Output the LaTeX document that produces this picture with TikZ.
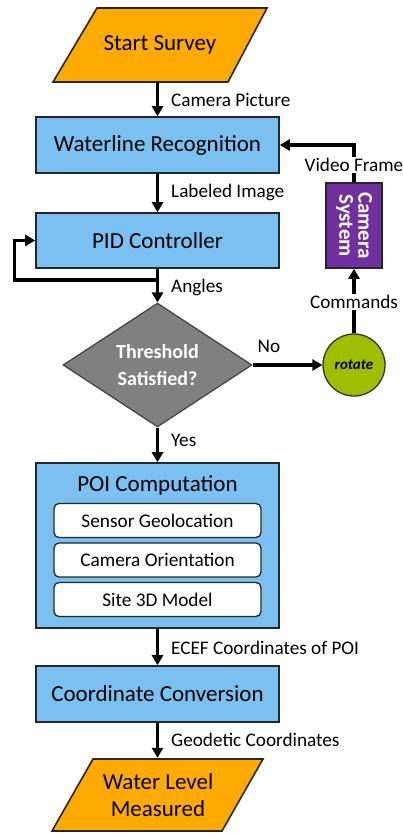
\documentclass[tikz,border=0pt]{standalone}
\usepackage{fontspec}
\setmainfont{Carlito}
\usetikzlibrary{arrows.meta,shapes.geometric}
\definecolor{orng}{RGB}{255,170,0}
\definecolor{bluebox}{RGB}{122,192,240}
\definecolor{purp}{RGB}{112,48,160}
\definecolor{limegr}{RGB}{160,190,0}
\definecolor{gry}{RGB}{128,128,128}
\begin{document}
\begin{tikzpicture}[x=1pt,y=-1pt,
  box/.style={draw=black!85, line width=1.6pt, fill=bluebox, minimum width=243pt, minimum height=56pt, inner sep=0pt, font=\fontsize{23}{26}\selectfont},
  subbox/.style={draw=black!85, line width=1.3pt, fill=white, rounded corners=5pt, minimum width=207pt, minimum height=34pt, inner sep=0pt, font=\fontsize{19.3}{22}\selectfont},
  para/.style={draw=black!85, line width=1.6pt, fill=orng},
  arr/.style={line width=3.2pt, line join=miter, -{Triangle[width=11pt,length=10pt]}},
  lbl/.style={anchor=west, inner sep=0pt, font=\fontsize{19.2}{22}\selectfont},
  wlbl/.style={fill=white, inner sep=1pt, font=\fontsize{19.2}{22}\selectfont},
  ptext/.style={inner sep=0pt, minimum height=74pt, align=center, font=\fontsize{23}{27}\selectfont}
]
\useasboundingbox (0,0) rectangle (403,833);
\fill[white] (0,0) rectangle (403,833);

% start parallelogram
\draw[para] (97,8) -- (267,8) -- (228,82) -- (53,82) -- cycle;
\node[ptext] (start) at (160,45) {Start Survey};

% end parallelogram
\draw[para] (93,759) -- (263,759) -- (222,831) -- (52,831) -- cycle;
\node[ptext] (finish) at (158,795) {Water Level\\Measured};

% main boxes
\node[box] (wr) at (157.5,145) {Waterline Recognition};
\node[box, minimum height=55pt] (pid) at (157.5,240.5) {PID Controller};
\node[diamond, draw=black!75, line width=1.2pt, fill=gry, minimum width=189pt, minimum height=114pt, inner sep=0pt, align=center, text=white, font=\bfseries\fontsize{20}{27}\selectfont] (dia) at (157.5,365) {Threshold\\Satisfied?};
\node[box, minimum height=165pt] (poi) at (157.5,545.5) {};
\node[inner sep=0pt, font=\fontsize{23}{26}\selectfont] (poit) at (157.5,485) {POI Computation};
\node[subbox] (sg) at (157.5,520.5) {Sensor Geolocation};
\node[subbox] (co) at (157.5,560) {Camera Orientation};
\node[subbox] (sm) at (157.5,599.5) {Site 3D Model};
\node[box] (cc) at (157.5,694) {Coordinate Conversion};

% right side
\node[circle, draw=black!80, line width=1.3pt, fill=limegr, minimum size=62pt, inner sep=0pt, font=\bfseries\itshape\fontsize{15}{18}\selectfont] (rot) at (354,365) {rotate};
\node[draw=black!85, line width=1.6pt, fill=purp, rotate=-90, minimum width=85pt, minimum height=56pt, inner sep=0pt, align=center, text=white, font=\bfseries\fontsize{21}{19}\selectfont] (cam) at (354,225.5) {Camera\\System};

% connectors
\draw[arr] (start.south -| wr.north) -- (wr.north);
\draw[arr] (wr.south) -- (pid.north);
\draw[arr] (pid.south) -- (dia.north);
\coordinate (fb) at (157.5,280);
\draw[arr] (fb) -| ([xshift=-21pt]pid.west) -- (pid.west);
\draw[arr] (dia.east) -- (rot.west);
\draw[arr] (dia.south) -- (poi.north);
\draw[arr] (rot) -- (cam);
\draw[arr] (cam) |- (wr.east);
\draw[arr] (poi.south) -- (cc.north);
\draw[arr] (cc.south) -- (finish.north -| cc.south);

% labels
\node[lbl] (l1) at (171,100) {Camera Picture};
\node[lbl] (l2) at (171,192) {Labeled Image};
\node[lbl] (l3) at (171,287) {Angles};
\node[inner sep=0pt, font=\fontsize{19.2}{22}\selectfont] (l4) at (269,346) {No};
\node[lbl] (l5) at (171,440) {Yes};
\node[lbl] (l6) at (171,648) {ECEF Coordinates of POI};
\node[lbl] (l7) at (171,740) {Geodetic Coordinates};
\node[wlbl] (l8) at (354,302) {Commands};
\node[wlbl] (l9) at (354,165) {Video Frame};
\end{tikzpicture}
\end{document}
